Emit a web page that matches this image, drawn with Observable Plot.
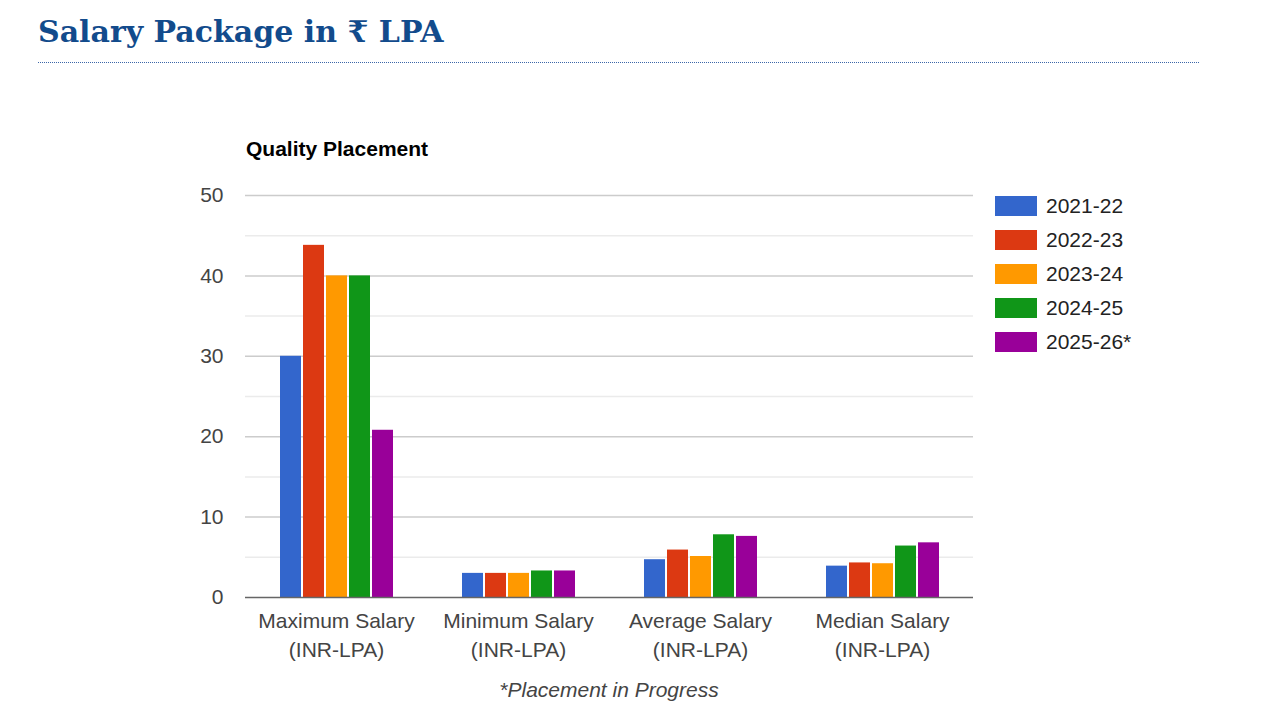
<!DOCTYPE html>
<html><head><meta charset="utf-8">
<script src="https://cdn.jsdelivr.net/npm/d3@7"></script>
<script src="https://cdn.jsdelivr.net/npm/@observablehq/plot@0.6"></script>
<style>
body{margin:0;background:#fff;width:1280px;height:720px;position:relative;overflow:hidden;font-family:"Liberation Sans",Arial,sans-serif}
#title{position:absolute;left:38px;top:14px;font-family:"DejaVu Serif",serif;font-weight:bold;font-size:30px;color:#124b8c;white-space:nowrap}
#rule{position:absolute;left:38px;top:62px;width:1161px;border-top:1.5px dotted #3c66a8}
#sub{position:absolute;left:246px;top:137px;font-weight:bold;font-size:21px;color:#000}
#chart{position:absolute;left:0;top:170px}
#legend{position:absolute;left:995px;top:196px}
.item{display:flex;align-items:center;height:20px;margin-bottom:14px;font-size:21px;color:#222}
.sw{width:42px;height:20px;margin-right:9px}
#caption{position:absolute;left:0;width:1218px;text-align:center;top:678px;font-style:italic;font-size:21px;color:#444}
</style></head>
<body>
<div id="title">Salary Package in ₹ LPA</div>
<div id="rule"></div>
<div id="sub">Quality Placement</div>
<div id="chart"></div>
<div id="legend"></div>
<div id="caption">*Placement in Progress</div>
<script>
const categories = ["Maximum Salary\n(INR-LPA)", "Minimum Salary\n(INR-LPA)", "Average Salary\n(INR-LPA)", "Median Salary\n(INR-LPA)"];
const seriesNames = ["2021-22", "2022-23", "2023-24", "2024-25", "2025-26*"];
const maximumSalary = [30, 43.8, 40, 40, 20.8];
const minimumSalary = [3, 3, 3, 3.3, 3.3];
const averageSalary = [4.7, 5.9, 5.1, 7.8, 7.6];
const medianSalary = [3.9, 4.3, 4.2, 6.4, 6.8];
const colors = ["#3366cc", "#dc3912", "#ff9900", "#109618", "#990099"];
const yTicks = [0, 10, 20, 30, 40, 50];
const minorTicks = [5, 15, 25, 35, 45];
const majorTicks = [10, 20, 30, 40, 50];

const seriesValues = [maximumSalary, minimumSalary, averageSalary, medianSalary];
const data = categories.flatMap((c, i) => seriesNames.map((s, j) => ({category: c, year: s, value: seriesValues[i][j]})));

const chart = Plot.plot({
  width: 1000, height: 500,
  marginLeft: 245, marginRight: 27, marginTop: 25, marginBottom: 73,
  style: {fontFamily: "Liberation Sans, Arial, sans-serif", fontSize: "21px", background: "transparent", overflow: "visible"},
  fx: {domain: categories, padding: 0, label: null, axis: null},
  x: {domain: seriesNames, paddingInner: 0.09, paddingOuter: 1.5, axis: null},
  y: {domain: [0, 50], label: null, axis: null},
  color: {domain: seriesNames, range: colors},
  marks: [
    Plot.ruleY(minorTicks, {stroke: "#ebebeb", strokeWidth: 1.5}),
    Plot.ruleY(majorTicks, {stroke: "#cccccc", strokeWidth: 1.5}),
    Plot.axisY(yTicks, {anchor: "left", tickSize: 0, tickPadding: 22, fontSize: 21, fill: "#444", label: null}),
    Plot.barY(data, {fx: "category", x: "year", y: "value", fill: "year"}),
    Plot.ruleY([0], {stroke: "#666", strokeWidth: 1.5}),
    Plot.axisFx({anchor: "bottom", tickSize: 0, tickPadding: 10, lineHeight: 1.38, fontSize: 21, fill: "#444", label: null})
  ]
});
document.getElementById("chart").appendChild(chart);

const legend = document.getElementById("legend");
seriesNames.forEach((s, i) => {
  const item = document.createElement("div");
  item.className = "item";
  const sw = document.createElement("div");
  sw.className = "sw";
  sw.style.background = colors[i];
  const t = document.createElement("span");
  t.textContent = s;
  item.appendChild(sw); item.appendChild(t);
  legend.appendChild(item);
});
</script>
</body></html>
